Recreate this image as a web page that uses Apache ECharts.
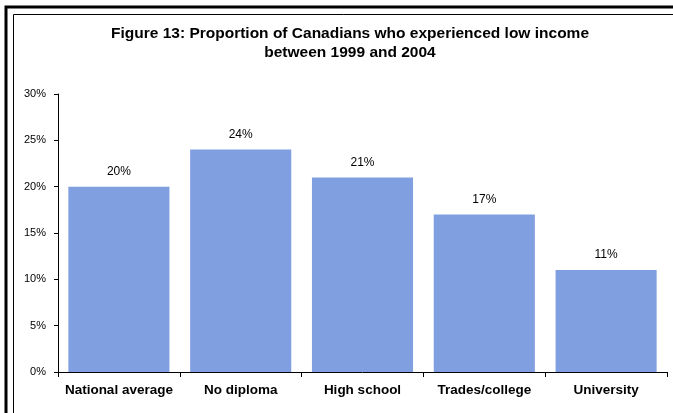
<!DOCTYPE html>
<html>
<head>
<meta charset="utf-8">
<script src="https://cdn.jsdelivr.net/npm/echarts@6/dist/echarts.min.js"></script>
<style>
  html, body { margin: 0; padding: 0; background: #fff; }
  #chart { width: 673px; height: 413px; }
</style>
</head>
<body>
<div id="chart"></div>
<script>
// Share of Canadians who experienced low income, by education level
const categories = ['National average', 'No diploma', 'High school', 'Trades/college', 'University'];
const lowIncomeShare = [20, 24, 21, 17, 11];
const yTicks = { min: 0, max: 30, interval: 5 };

const chart = echarts.init(document.getElementById('chart'), null, { renderer: 'canvas' });

chart.setOption({
  backgroundColor: '#ffffff',
  animation: false,
  title: {
    text: 'Figure 13: Proportion of Canadians who experienced low income\nbetween 1999 and 2004',
    left: 345,
    textAlign: 'center',
    top: 19,
    textStyle: {
      fontFamily: 'Liberation Sans, Arial, sans-serif',
      fontSize: 15.5,
      fontWeight: 'bold',
      color: '#000',
      lineHeight: 19
    }
  },
  graphic: [
    // double frame around the figure
    { type: 'rect', shape: { x: 6, y: 7, width: 700, height: 450 }, style: { fill: 'none', stroke: '#000', lineWidth: 3 }, silent: true },
    { type: 'rect', shape: { x: 13.5, y: 14.5, width: 700, height: 450 }, style: { fill: 'none', stroke: '#000', lineWidth: 1 }, silent: true }
  ],
  grid: { left: 58, right: 6, top: 94, bottom: 41, containLabel: false },
  xAxis: {
    type: 'category',
    data: categories,
    axisLine: { lineStyle: { color: '#000', width: 1 } },
    axisTick: { show: true, interval: 0, length: 5, lineStyle: { color: '#000' } },
    axisLabel: {
      interval: 0,
      color: '#000',
      fontFamily: 'Liberation Sans, Arial, sans-serif',
      fontSize: 13.5,
      fontWeight: 'bold',
      margin: 11
    }
  },
  yAxis: {
    type: 'value',
    min: yTicks.min,
    max: yTicks.max,
    interval: yTicks.interval,
    splitLine: { show: false },
    axisLine: { show: true, lineStyle: { color: '#000', width: 1 } },
    axisTick: { show: true, length: 4, lineStyle: { color: '#000' } },
    axisLabel: {
      color: '#000',
      fontFamily: 'Liberation Sans, Arial, sans-serif',
      fontSize: 11,
      margin: 12,
      formatter: '{value}%'
    }
  },
  series: [{
    type: 'bar',
    data: lowIncomeShare,
    barCategoryGap: '17%',
    itemStyle: { color: '#809FE0' },
    label: {
      show: true,
      position: 'top',
      distance: 9,
      color: '#000',
      fontFamily: 'Liberation Sans, Arial, sans-serif',
      fontSize: 12,
      formatter: '{c}%'
    }
  }]
});
</script>
</body>
</html>
